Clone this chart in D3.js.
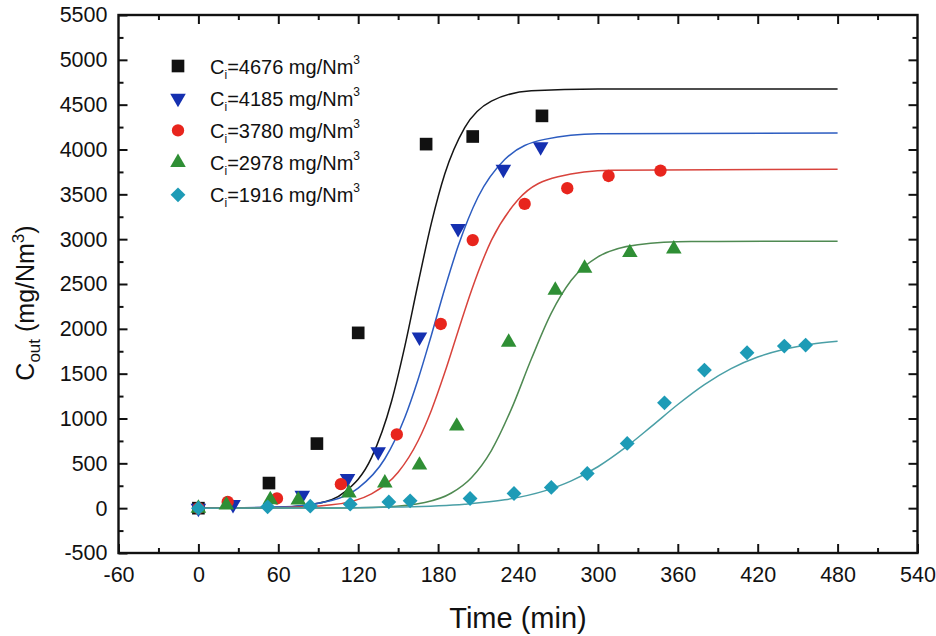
<!DOCTYPE html>
<html><head><meta charset="utf-8">
<script src="https://cdn.jsdelivr.net/npm/d3@7"></script>
<style>body{margin:0;background:#fff}svg{display:block}text{font-family:"Liberation Sans",Arial,Helvetica,sans-serif;fill:#111}</style>
</head><body><svg id="c" width="936" height="636"></svg>
<script>
// ---- data ----
const seriesNames = ["4676", "4185", "3780", "2978", "1916"];
const seriesColors = ["#111111", "#1530b0", "#e8251d", "#2f8f35", "#1d9bb6"];
const lineColors = ["#151515", "#2c5cc0", "#d8433c", "#4f8a52", "#4a9fa6"];
const symbolKinds = ["square", "triangleDown", "circle", "triangleUp", "diamond"];

const t4676 = [0, 53, 89, 120, 171, 206, 258];
const v4676 = [0, 280, 720, 1955, 4060, 4145, 4375];
const t4185 = [0, 26, 78, 112, 135, 166, 195, 229, 257];
const v4185 = [0, 40, 145, 330, 630, 1910, 3120, 3780, 4030];
const t3780 = [0, 22, 59, 107, 149, 182, 206, 245, 277, 308, 347];
const v3780 = [0, 70, 108, 268, 822, 2054, 2990, 3393, 3568, 3705, 3765];
const t2978 = [0, 21, 54, 75, 113, 140, 166, 194, 233, 268, 290, 324, 357];
const v2978 = [0, 35, 95, 90, 170, 280, 480, 915, 1850, 2430, 2675, 2850, 2890];
const t1916 = [0, 52, 84, 114, 143, 159, 204, 237, 265, 292, 322, 350, 380, 412, 440, 456];
const v1916 = [0, 15, 22, 45, 70, 82, 108, 164, 231, 387, 722, 1175, 1540, 1733, 1808, 1819];

// fitted curves
const fitT4676 = [0, 60, 90, 110, 130, 145, 155, 165, 175, 185, 200, 220, 250, 300, 480];
const fitV4676 = [0, 9, 55, 181, 563, 1190, 1805, 2508, 3181, 3726, 4243, 4539, 4654, 4675, 4676];
const fitT4185 = [0, 60, 100, 120, 140, 155, 165, 175, 185, 195, 210, 230, 260, 300, 480];
const fitV4185 = [1, 12, 86, 224, 551, 1011, 1438, 1932, 2447, 2920, 3470, 3888, 4113, 4175, 4185];
const fitT3780 = [0, 60, 100, 130, 150, 165, 175, 185, 195, 205, 220, 240, 270, 310, 480];
const fitV3780 = [0, 5, 37, 160, 400, 752, 1093, 1512, 1974, 2426, 2986, 3439, 3696, 3768, 3780];
const fitT2978 = [0, 100, 140, 170, 190, 205, 220, 235, 250, 265, 280, 300, 330, 370, 480];
const fitV2978 = [0, 2, 14, 63, 169, 340, 643, 1104, 1663, 2175, 2541, 2803, 2938, 2973, 2978];
const fitT1916 = [0, 100, 150, 200, 230, 260, 280, 300, 320, 340, 360, 380, 400, 420, 440, 460, 480];
const fitV1916 = [0, 3, 12, 44, 93, 193, 304, 462, 669, 909, 1156, 1378, 1556, 1685, 1772, 1828, 1862];

const xTicks = [-60, 0, 60, 120, 180, 240, 300, 360, 420, 480, 540];
const yTicks = [-500, 0, 500, 1000, 1500, 2000, 2500, 3000, 3500, 4000, 4500, 5000, 5500];

// ---- build ----
const pts = [[t4676, v4676], [t4185, v4185], [t3780, v3780], [t2978, v2978], [t1916, v1916]];
const fits = [[fitT4676, fitV4676], [fitT4185, fitV4185], [fitT3780, fitV3780], [fitT2978, fitV2978], [fitT1916, fitV1916]];
const zip = (a, b) => a.map((d, i) => [d, b[i]]);

const L = 118.5, R = 917.5, T = 15, B = 553;
const svg = d3.select("#c");
const x = d3.scaleLinear().domain([-60, 540]).range([L, R]);
const y = d3.scaleLinear().domain([-500, 5500]).range([B, T]);

const xMinor = d3.range(-30, 540, 60);
const yMinor = d3.range(-250, 5500, 500);

function tickAxis(axisGen, scale, ticks, len, transform, labels) {
  const g = svg.append("g").attr("transform", transform)
    .call(axisGen(scale).tickValues(ticks).tickSizeInner(len).tickSizeOuter(0)
      .tickPadding(labels ? 10 : 0).tickFormat(labels ? (d => String(d)) : () => ""));
  g.select(".domain").remove();
  g.selectAll(".tick line").attr("stroke", "#111").attr("stroke-width", 2);
  g.selectAll(".tick text").style("font-size", "21.5px").attr("fill", "#111");
  return g;
}
// inward ticks
const gx = tickAxis(d3.axisBottom, x, xTicks, -9, `translate(0,${B})`, true);
gx.selectAll(".tick text").attr("y", 14).attr("dy", "0.71em");
tickAxis(d3.axisBottom, x, xMinor, -5, `translate(0,${B})`, false);
tickAxis(d3.axisTop, x, xTicks.slice(1, -1), -9, `translate(0,${T})`, false);
tickAxis(d3.axisTop, x, xMinor, -5, `translate(0,${T})`, false);
const gy = tickAxis(d3.axisLeft, y, yTicks, -9, `translate(${L},0)`, true);
gy.selectAll(".tick text").attr("x", -11);
tickAxis(d3.axisLeft, y, yMinor, -5, `translate(${L},0)`, false);
tickAxis(d3.axisRight, y, yTicks.slice(1, -1), -9, `translate(${R},0)`, false);
tickAxis(d3.axisRight, y, yMinor, -5, `translate(${R},0)`, false);

svg.append("rect").attr("x", L).attr("y", T).attr("width", R - L).attr("height", B - T)
  .attr("fill", "none").attr("stroke", "#111").attr("stroke-width", 2.4);

// fitted lines
const line = d3.line().x(d => x(d[0])).y(d => y(d[1])).curve(d3.curveMonotoneX);
fits.forEach((f, i) => {
  svg.append("path").datum(zip(f[0], f[1])).attr("d", line)
    .attr("fill", "none").attr("stroke", lineColors[i]).attr("stroke-width", 1.5);
});

function sym(kind) {
  if (kind === "square") return { p: d3.symbol(d3.symbolSquare, 160)(), r: 0 };
  if (kind === "circle") return { p: d3.symbol(d3.symbolCircle, 120)(), r: 0 };
  if (kind === "triangleUp") return { p: d3.symbol(d3.symbolTriangle, 105)(), r: 0 };
  if (kind === "triangleDown") return { p: d3.symbol(d3.symbolTriangle, 105)(), r: 180 };
  return { p: d3.symbol(d3.symbolSquare, 110)(), r: 45 };
}

pts.forEach((s, i) => {
  const sm = sym(symbolKinds[i]);
  svg.append("g").selectAll("path").data(zip(s[0], s[1])).join("path")
    .attr("d", sm.p)
    .attr("transform", d => `translate(${x(d[0])},${y(d[1])}) rotate(${sm.r})`)
    .attr("fill", seriesColors[i]);
});

// legend
seriesNames.forEach((n, i) => {
  const cy = 66 + i * 32.2;
  const sm = sym(symbolKinds[i]);
  svg.append("path").attr("d", sm.p).attr("transform", `translate(178,${cy}) rotate(${sm.r})`)
    .attr("fill", seriesColors[i]);
  const t = svg.append("text").attr("x", 210).attr("y", cy + 7.5).style("font-size", "20px");
  t.append("tspan").text("C");
  t.append("tspan").attr("dy", 5).style("font-size", "12px").text("i");
  t.append("tspan").attr("dy", -5).text("=" + n + " mg/Nm");
  t.append("tspan").attr("dy", -10).style("font-size", "12px").text("3");
});

// axis titles
svg.append("text").attr("x", (L + R) / 2).attr("y", 628).attr("text-anchor", "middle")
  .style("font-size", "29px").text("Time (min)");
const yt = svg.append("text").attr("transform", "translate(34,303) rotate(-90)")
  .attr("text-anchor", "middle").style("font-size", "25px");
yt.append("tspan").text("C");
yt.append("tspan").attr("dy", 6).style("font-size", "17px").text("out");
yt.append("tspan").attr("dy", -6).text(" (mg/Nm");
yt.append("tspan").attr("dy", -10).style("font-size", "17px").text("3");
yt.append("tspan").attr("dy", 10).text(")");
</script></body></html>
